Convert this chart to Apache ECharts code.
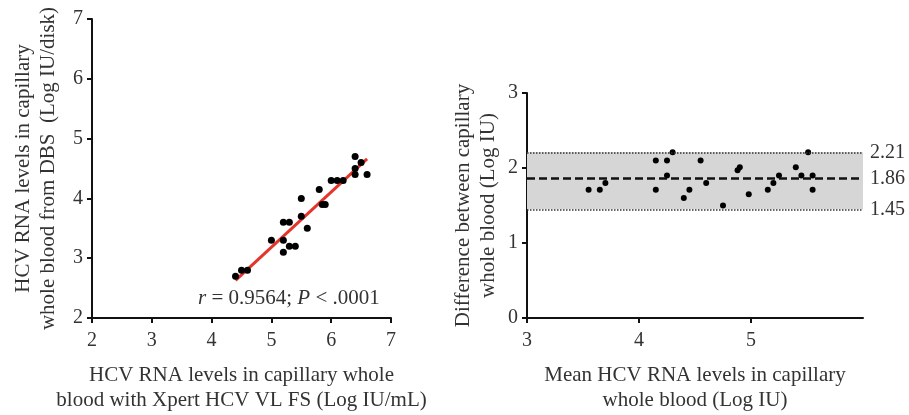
<!DOCTYPE html>
<html>
<head>
<meta charset="utf-8">
<script src="https://cdn.jsdelivr.net/npm/echarts@6/dist/echarts.min.js"></script>
<style>
  html, body { margin: 0; padding: 0; background: #fff; }
  #main { width: 909px; height: 415px; }
</style>
</head>
<body>
<div id="main"></div>
<script>
// left panel: correlation (x = Xpert capillary, y = DBS)
const corrX = [4.4, 4.5, 4.6, 5.0, 5.2, 5.3, 5.2, 5.2, 5.3, 5.4, 5.5, 5.5, 5.6, 5.8, 5.85, 5.9, 6.0, 6.1, 6.2, 6.4, 6.4, 6.4, 6.5, 6.6]
const corrY = [2.7, 2.8, 2.8, 3.3, 3.6, 3.6, 3.3, 3.1, 3.2, 3.2, 4.0, 3.7, 3.5, 4.15, 3.9, 3.9, 4.3, 4.3, 4.3, 4.7, 4.5, 4.4, 4.6, 4.4]
const fitX = [4.4, 6.6]
const fitY = [2.63, 4.66]
const corrTicks = [2, 3, 4, 5, 6, 7]

// right panel: Bland-Altman (mean vs difference)
const baMean = [3.55, 3.65, 3.7, 4.15, 4.15, 4.25, 4.25, 4.3, 4.4, 4.45, 4.55, 4.6, 4.75, 4.88, 4.9, 4.98, 5.15, 5.2, 5.25, 5.4, 5.45, 5.51, 5.55, 5.55]
const baDiff = [1.71, 1.71, 1.8, 2.1, 1.71, 2.1, 1.9, 2.21, 1.6, 1.71, 2.1, 1.8, 1.5, 1.97, 2.01, 1.65, 1.71, 1.8, 1.9, 2.01, 1.9, 2.21, 1.9, 1.71]
const baBias = 1.86
const baUpper = 2.21
const baLower = 1.45

const font = "'Liberation Serif', 'DejaVu Serif', serif"
const textColor = '#333'

const myChart = echarts.init(document.getElementById('main'))

function axisBase(min, max, labelMargin) {
  return {
    min: min,
    max: max,
    interval: 1,
    axisLine: { show: true, lineStyle: { color: '#111', width: 2 } },
    axisTick: { show: true, inside: false, length: 5, lineStyle: { color: '#111', width: 2 } },
    splitLine: { show: false },
    axisLabel: { color: textColor, fontFamily: font, fontSize: 20, margin: labelMargin },
    nameLocation: 'middle',
    nameTextStyle: { color: textColor, fontFamily: font, fontSize: 21, lineHeight: 25 }
  }
}

const option = {
  animation: false,
  backgroundColor: '#fff',
  title: {
    left: 193,
    top: 283,
    text: '{i|r} = 0.9564; {i|P} < .0001',
    textStyle: {
      color: textColor, fontFamily: font, fontSize: 21, fontWeight: 'normal',
      rich: { i: { fontStyle: 'italic', color: textColor, fontFamily: font, fontSize: 21 } }
    }
  },
  grid: [
    { left: 92, right: 518, top: 19, bottom: 97, outerBoundsMode: 'none' },
    { left: 527, right: 46, top: 93, bottom: 97, outerBoundsMode: 'none' }
  ],
  xAxis: [
    Object.assign(axisBase(corrTicks[0], corrTicks[corrTicks.length - 1], 13), {
      gridIndex: 0, type: 'value',
      name: 'HCV RNA levels in capillary whole\nblood with Xpert HCV VL FS (Log IU/mL)',
      nameGap: 45
    }),
    Object.assign(axisBase(3, 6, 13), {
      gridIndex: 1, type: 'value',
      name: 'Mean HCV RNA levels in capillary\nwhole blood (Log IU)',
      nameGap: 45
    })
  ],
  yAxis: [
    Object.assign(axisBase(corrTicks[0], corrTicks[corrTicks.length - 1], 9), {
      gridIndex: 0, type: 'value',
      name: 'HCV RNA levels in capillary\nwhole blood from DBS  (Log IU/disk)',
      nameGap: 31
    }),
    Object.assign(axisBase(0, 3, 9), {
      gridIndex: 1, type: 'value',
      name: 'Difference between capillary\nwhole blood (Log IU)',
      nameGap: 26
    })
  ],
  series: [
    {
      type: 'line',
      xAxisIndex: 0, yAxisIndex: 0,
      data: fitX.map((x, i) => [x, fitY[i]]),
      showSymbol: false,
      symbol: 'none',
      lineStyle: { color: '#e5352b', width: 3 },
      z: 1
    },
    {
      type: 'scatter',
      xAxisIndex: 0, yAxisIndex: 0,
      data: corrX.map((x, i) => [x, corrY[i]]),
      symbolSize: 7,
      itemStyle: { color: '#000', opacity: 1 },
      z: 3
    },
    {
      type: 'scatter',
      xAxisIndex: 1, yAxisIndex: 1,
      data: baMean.map((x, i) => [x, baDiff[i]]),
      symbolSize: 6,
      itemStyle: { color: '#000', opacity: 1 },
      z: 3,
      markArea: {
        silent: true,
        itemStyle: { color: '#d6d6d6' },
        data: [[{ yAxis: baLower }, { yAxis: baUpper }]]
      },
      markLine: {
        silent: true,
        symbol: 'none',
        label: {
          position: 'end', distance: 7, color: textColor, fontFamily: font, fontSize: 20,
          formatter: p => p.value.toFixed(2)
        },
        data: [
          { yAxis: baUpper, lineStyle: { type: 'dotted', color: '#333', width: 1.5 } },
          { yAxis: baBias, lineStyle: { type: [8, 4], color: '#111', width: 2.5 } },
          { yAxis: baLower, lineStyle: { type: 'dotted', color: '#333', width: 1.5 } }
        ]
      }
    }
  ]
}
option.xAxis[1].axisLabel = Object.assign({}, option.xAxis[1].axisLabel, { showMaxLabel: false })

myChart.setOption(option)
</script>
</body>
</html>
